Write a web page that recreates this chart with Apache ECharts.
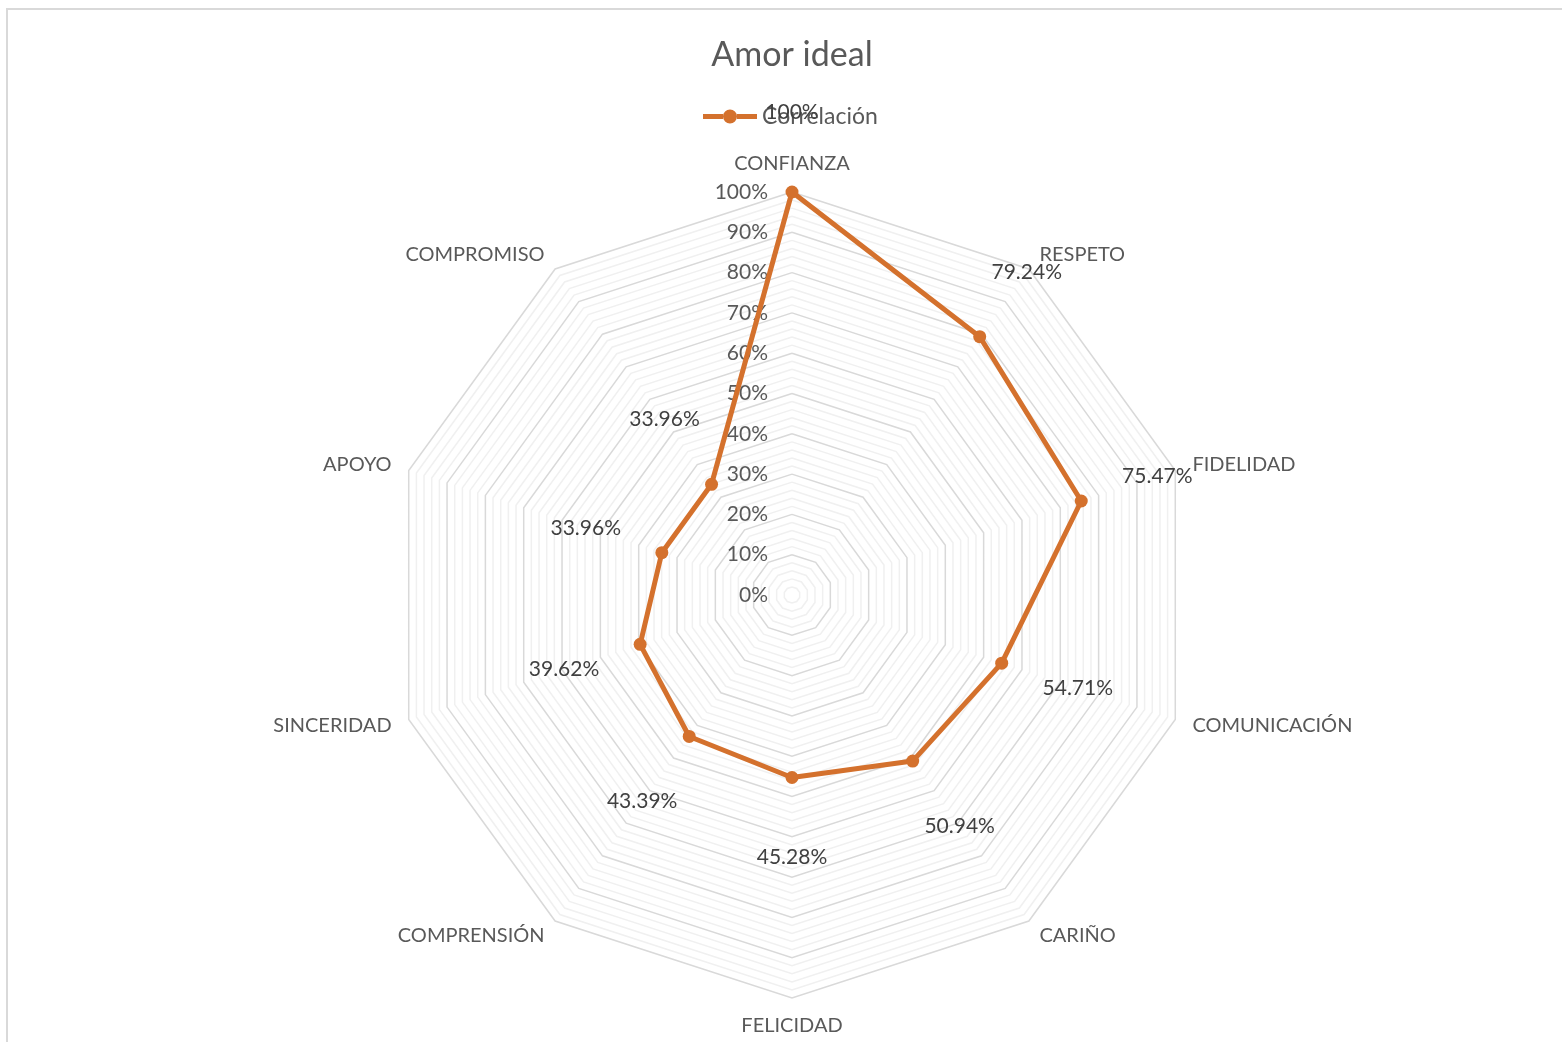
<!DOCTYPE html>
<html>
<head>
<meta charset="utf-8">
<script src="https://cdn.jsdelivr.net/npm/echarts@6/dist/echarts.min.js"></script>
<style>html,body{margin:0;padding:0;background:#fff;}#chart{width:1562px;height:1042px;}</style>
</head>
<body>
<div id="chart"></div>
<script>
// Categories in clockwise order starting at the top
const categories = ['CONFIANZA','RESPETO','FIDELIDAD','COMUNICACIÓN','CARIÑO','FELICIDAD','COMPRENSIÓN','SINCERIDAD','APOYO','COMPROMISO'];
const values = [100, 79.24, 75.47, 54.71, 50.94, 45.28, 43.39, 39.62, 33.96, 33.96];
const seriesName = 'Correlación';
const titleText = 'Amor ideal';

const CENTER = [792, 595];
const RADIUS = 403;
const LABEL_OFFSET = 80 / RADIUS * 100; // data labels sit 80px further out along each spoke
const ORANGE = '#d4712d';
const FONT = 'Lato';

// ECharts radar runs counter-clockwise; reorder so the picture runs clockwise
const order = [0].concat(categories.map((_, i) => i).slice(1).reverse());
const cats = order.map(i => categories[i]);
const vals = order.map(i => values[i]);

const chart = echarts.init(document.getElementById('chart'));
const splitColors = ['#d9d9d9','#f0f0f0','#f0f0f0','#f0f0f0','#f0f0f0'];
const legendIcon = 'path://M0,4.5 L20,4.5 L20,9.5 L0,9.5 Z M34,4.5 L54,4.5 L54,9.5 L34,9.5 Z M20,7 A7,7 0 1,1 34,7 A7,7 0 1,1 20,7 Z';

chart.setOption({
  animation: false,
  backgroundColor: '#fff',
  textStyle: { fontFamily: FONT },
  title: {
    text: titleText, left: 787, textAlign: 'center', top: 33,
    textStyle: { fontFamily: FONT, fontSize: 34, fontWeight: 'normal', color: '#595959' }
  },
  legend: {
    data: [{ name: seriesName, icon: legendIcon }], left: 698, top: 100,
    itemWidth: 54, itemHeight: 14, itemGap: 6,
    textStyle: { fontFamily: FONT, fontSize: 23, color: '#595959' }
  },
  graphic: [{
    type: 'rect', shape: { x: 7, y: 9, width: 1700, height: 1200 },
    style: { fill: 'none', stroke: '#d9d9d9', lineWidth: 2 }, silent: true
  }],
  radar: {
    center: CENTER, radius: RADIUS, startAngle: 90, shape: 'polygon',
    splitNumber: 50,
    indicator: cats.map(n => ({ name: n, min: 0, max: 100 })),
    axisName: { color: '#595959', fontSize: 20, fontFamily: FONT },
    nameGap: 18,
    axisLine: { show: false },
    axisTick: { show: false },
    splitArea: { show: false },
    splitLine: { lineStyle: { color: splitColors, width: 1.5 } }
  },
  polar: { center: CENTER, radius: RADIUS },
  angleAxis: { show: false, startAngle: 90, min: 0, max: 360 },
  radiusAxis: {
    min: 0, max: 100, interval: 10,
    axisLine: { show: false }, axisTick: { show: false }, splitLine: { show: false },
    axisLabel: { formatter: '{value}%', color: '#595959', fontSize: 21, fontFamily: FONT, margin: 24 }
  },
  series: [
    {
      name: seriesName, type: 'radar',
      symbol: 'circle', symbolSize: 13,
      lineStyle: { color: ORANGE, width: 5 },
      itemStyle: { color: ORANGE },
      z: 5,
      data: [{ value: vals, name: seriesName }]
    },
    {
      name: 'labels', type: 'radar',
      symbol: 'circle', symbolSize: 0.1,
      lineStyle: { opacity: 0, width: 0 },
      itemStyle: { color: 'transparent' },
      silent: true, z: 6,
      label: {
        show: true, position: 'inside', color: '#404040', fontSize: 21, fontFamily: FONT,
        formatter: p => {
          const v = Math.round((p.value - LABEL_OFFSET) * 100) / 100;
          return v === 100 ? '100%' : v.toFixed(2) + '%';
        }
      },
      data: [{ value: vals.map(v => v + LABEL_OFFSET), name: 'labels' }]
    }
  ]
});
</script>
</body>
</html>
